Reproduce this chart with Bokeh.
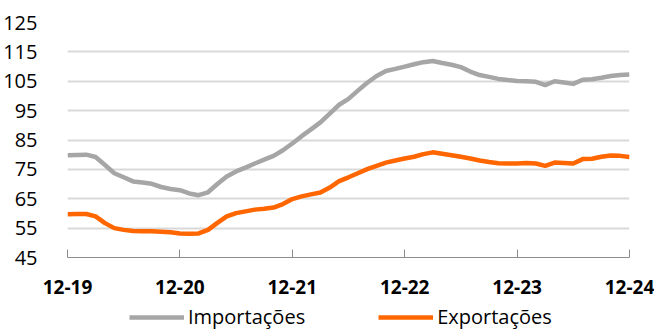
from bokeh.plotting import figure
from bokeh.models import Range1d, FixedTicker, Legend, LegendItem
from bokeh.layouts import column
from bokeh.embed import file_html
from bokeh.resources import INLINE

# Monthly index, Dec-2019 .. Dec-2024
months = list(range(61))
x_tick_positions = [0, 12, 24, 36, 48, 60]
x_tick_labels = ["12-19", "12-20", "12-21", "12-22", "12-23", "12-24"]
y_ticks = [45, 55, 65, 75, 85, 95, 105, 115, 125]

importacoes = [
    79.8, 79.9, 80.0, 79.2, 76.5, 73.7, 72.3, 70.9, 70.5, 70.1, 69.0, 68.3,
    67.9, 66.8, 66.2, 67.2, 70.0, 72.6, 74.3, 75.6, 77.0, 78.3, 79.6, 81.5,
    83.8, 86.3, 88.6, 91.0, 94.0, 97.0, 99.0, 101.8, 104.5, 106.8, 108.5, 109.2,
    110.0, 110.8, 111.5, 111.9, 111.2, 110.6, 109.8, 108.3, 107.1, 106.5, 105.8, 105.4,
    105.1, 105.0, 104.8, 103.7, 105.0, 104.6, 104.1, 105.5, 105.7, 106.2, 106.8, 107.1,
    107.3,
]
exportacoes = [
    59.7, 59.8, 59.8, 59.0, 56.7, 55.0, 54.4, 54.0, 53.9, 53.9, 53.8, 53.6,
    53.2, 53.1, 53.2, 54.4, 56.8, 59.0, 60.1, 60.7, 61.3, 61.6, 62.0, 63.2,
    64.9, 65.8, 66.5, 67.1, 68.8, 71.0, 72.3, 73.7, 75.1, 76.2, 77.3, 78.0,
    78.7, 79.3, 80.2, 80.8, 80.3, 79.8, 79.3, 78.7, 78.0, 77.5, 77.1, 77.0,
    77.0, 77.2, 77.0, 76.2, 77.3, 77.2, 77.0, 78.5, 78.6, 79.3, 79.7, 79.6,
    79.2,
]
series_names = ["Importações", "Exportações"]
colors = ["#A6A6A6", "#FF6600"]
line_w = 4.5

p = figure(width=654, height=303, output_backend="svg", toolbar_location=None,
           x_range=Range1d(0, 60), y_range=Range1d(45, 125),
           min_border_left=66, min_border_right=25, min_border_top=22,
           min_border_bottom=46)
p.outline_line_color = None
p.background_fill_color = "white"
p.border_fill_color = "white"

p.line(months, importacoes, line_color=colors[0], line_width=line_w, line_join="round")
p.line(months, exportacoes, line_color=colors[1], line_width=line_w, line_join="round")

p.xgrid.grid_line_color = None
p.ygrid.grid_line_color = "#D9D9D9"
p.ygrid.grid_line_width = 2

p.yaxis.ticker = FixedTicker(ticks=y_ticks)
p.yaxis.axis_line_color = None
p.yaxis.major_tick_line_color = None
p.yaxis.minor_tick_line_color = None
p.yaxis.major_label_text_font = "Open Sans"
p.yaxis.major_label_text_font_size = "20px"
p.yaxis.major_label_text_color = "#000000"
p.yaxis.major_label_standoff = 24

p.xaxis.ticker = FixedTicker(ticks=x_tick_positions)
p.xaxis.major_label_overrides = {pos: lab for pos, lab in zip(x_tick_positions, x_tick_labels)}
p.xaxis.axis_line_color = "#8C8C8C"
p.xaxis.axis_line_width = 1.2
p.xaxis.major_tick_line_color = "#8C8C8C"
p.xaxis.major_tick_in = 8
p.xaxis.major_tick_out = 0
p.xaxis.minor_tick_line_color = None
p.xaxis.major_label_text_font = "Open Sans"
p.xaxis.major_label_text_font_style = "bold"
p.xaxis.major_label_text_font_size = "19px"
p.xaxis.major_label_text_color = "#000000"
p.xaxis.major_label_standoff = 22

# Legend strip below the chart (its frame is aligned with the chart frame)
leg = figure(width=654, height=30, output_backend="svg", toolbar_location=None,
             x_axis_location=None, y_axis_location=None,
             x_range=Range1d(0, 1), y_range=Range1d(0, 1),
             min_border_left=0, min_border_right=0, min_border_top=0, min_border_bottom=0)
leg.outline_line_color = None
leg.grid.grid_line_color = None
leg.border_fill_color = "white"
# key renderers: same series, outside this strip's visible range, only used for legend keys
k1 = leg.line(months, importacoes, line_color=colors[0], line_width=line_w)
k2 = leg.line(months, exportacoes, line_color=colors[1], line_width=line_w)
legend = Legend(items=[LegendItem(label=series_names[0], renderers=[k1]),
                       LegendItem(label=series_names[1], renderers=[k2])],
                location=(62, 3), orientation="horizontal",
                glyph_width=55, glyph_height=20, label_height=20,
                label_standoff=4, spacing=73, padding=0, margin=0,
                border_line_color=None, background_fill_alpha=0,
                label_text_font="Open Sans", label_text_font_size="20px",
                label_text_color="#000000")
leg.add_layout(legend, "center")

layout = column(p, leg, spacing=0)
open("out.html", "w").write(file_html(layout, INLINE))
